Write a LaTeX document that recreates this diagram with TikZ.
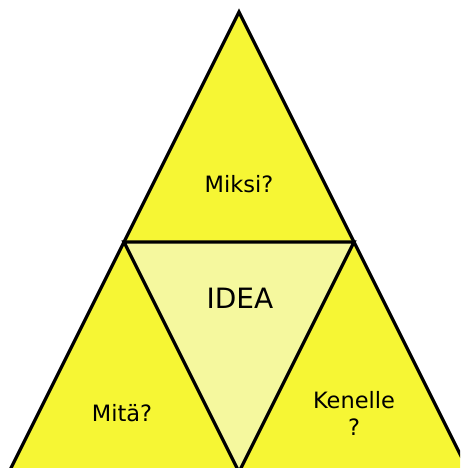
\documentclass[tikz,border=0pt]{standalone}
\usepackage{fontspec}
\setmainfont{DejaVu Sans}
\definecolor{ideayellow}{RGB}{246,246,52}
\definecolor{idealight}{RGB}{245,248,158}
\tikzset{
  piece/.style={draw=black, line width=3.2pt, line join=miter},
  word/.style={font=\fontsize{22.5}{27}\selectfont, align=center, inner sep=0pt}
}

\begin{document}
\begin{tikzpicture}[x=1pt, y=-1pt]
                \useasboundingbox (0,0) rectangle (460,468);
                \clip (0,0) rectangle (460,468);
                \coordinate (top) at (239,12);
                \coordinate (ml) at (124,242);
                \coordinate (mr) at (354,242);
                \coordinate (bl) at (9,472);
                \coordinate (bm) at (239,472);
                \coordinate (br) at (469,472);
                % outer triangle, then the middle one on top
                \draw[piece, fill=ideayellow] (top) -- (br) -- (bl) -- cycle;
                \draw[piece, fill=idealight] (ml) -- (mr) -- (bm) -- cycle;
                \node[word] (miksi) at (239,184) {Miksi?};
                \node[word, font=\fontsize{28}{32}\selectfont] (idea) at (240,298) {IDEA};
                \node[word] (mita) at (122,413) {Mitä?};
                \node[word] (kenelle) at (354,413) {Kenelle\\?};
            \end{tikzpicture}
\end{document}
